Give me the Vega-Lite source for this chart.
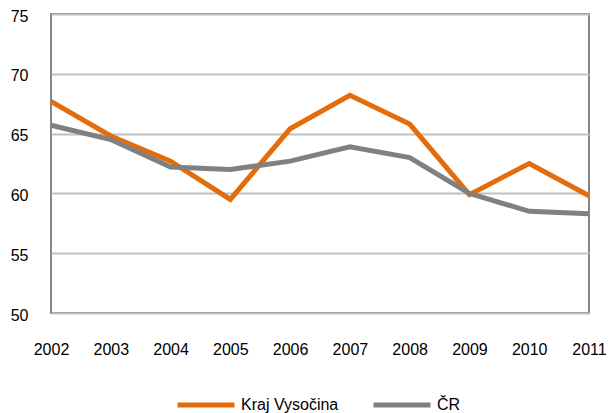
{
  "$schema": "https://vega.github.io/schema/vega-lite/v6.json",
  "autosize": "none",
  "width": 538,
  "height": 299,
  "padding": {"left": 51, "top": 14, "right": 20, "bottom": 100},
  "background": "white",
  "config": {
    "view": {"stroke": "#868686", "strokeWidth": 2},
    "font": "Liberation Sans"
  },
  "data": {
    "values": [
      {"year": "2002", "series": "Kraj Vysočina", "value": 67.7},
      {"year": "2003", "series": "Kraj Vysočina", "value": 64.8},
      {"year": "2004", "series": "Kraj Vysočina", "value": 62.7},
      {"year": "2005", "series": "Kraj Vysočina", "value": 59.5},
      {"year": "2006", "series": "Kraj Vysočina", "value": 65.4},
      {"year": "2007", "series": "Kraj Vysočina", "value": 68.2},
      {"year": "2008", "series": "Kraj Vysočina", "value": 65.8},
      {"year": "2009", "series": "Kraj Vysočina", "value": 59.9},
      {"year": "2010", "series": "Kraj Vysočina", "value": 62.5},
      {"year": "2011", "series": "Kraj Vysočina", "value": 59.8},
      {"year": "2002", "series": "ČR", "value": 65.7},
      {"year": "2003", "series": "ČR", "value": 64.5},
      {"year": "2004", "series": "ČR", "value": 62.2},
      {"year": "2005", "series": "ČR", "value": 62.0},
      {"year": "2006", "series": "ČR", "value": 62.7},
      {"year": "2007", "series": "ČR", "value": 63.9},
      {"year": "2008", "series": "ČR", "value": 63.0},
      {"year": "2009", "series": "ČR", "value": 60.0},
      {"year": "2010", "series": "ČR", "value": 58.5},
      {"year": "2011", "series": "ČR", "value": 58.3}
    ]
  },
  "mark": {"type": "line", "strokeWidth": 5, "strokeJoin": "miter", "clip": false},
  "encoding": {
    "x": {
      "field": "year",
      "type": "ordinal",
      "scale": {"type": "point", "padding": 0},
      "axis": {
        "title": null,
        "labelAngle": 0,
        "labelFontSize": 16,
        "labelColor": "#000000",
        "labelPadding": 28,
        "ticks": false,
        "domain": false,
        "grid": false
      }
    },
    "y": {
      "field": "value",
      "type": "quantitative",
      "scale": {"domain": [50, 75], "nice": false, "zero": false},
      "axis": {
        "title": null,
        "values": [50, 55, 60, 65, 70, 75],
        "labelFontSize": 16,
        "labelColor": "#000000",
        "labelPadding": 23,
        "labelBaseline": "middle",
        "labelOffset": 2,
        "ticks": false,
        "domain": false,
        "grid": true,
        "gridColor": "#c0c0c0",
        "gridWidth": 2
      }
    },
    "color": {
      "field": "series",
      "type": "nominal",
      "sort": ["Kraj Vysočina", "ČR"],
      "scale": {"domain": ["Kraj Vysočina", "ČR"], "range": ["#E46C0A", "#808080"]},
      "legend": {
        "title": null,
        "orient": "none",
        "direction": "horizontal",
        "legendX": 124,
        "legendY": 360,
        "symbolType": "stroke",
        "symbolSize": 3249,
        "symbolStrokeWidth": 5,
        "labelFontSize": 16,
        "labelColor": "#000000",
        "labelOffset": 4,
        "columnPadding": 24,
        "labelLimit": 300
      }
    }
  }
}
